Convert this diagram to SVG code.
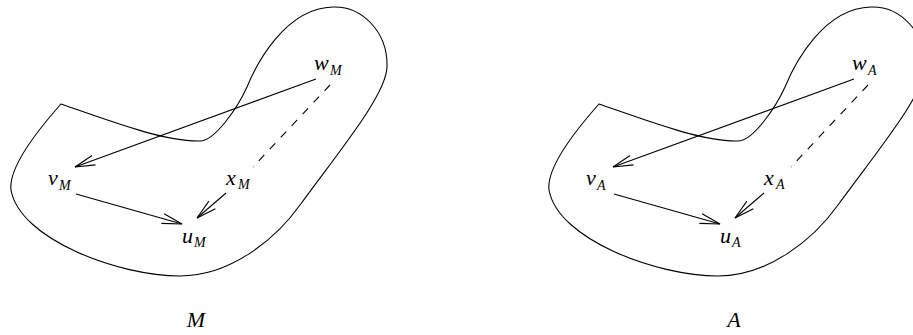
<svg xmlns="http://www.w3.org/2000/svg" width="913" height="335" viewBox="0 0 913 335">
<defs>
<style>
.outline{fill:none;stroke:#000;stroke-width:1.1}
.edge{fill:none;stroke:#000;stroke-width:1.1;marker-end:url(#ah)}
.dash{fill:none;stroke:#000;stroke-width:1.1;stroke-dasharray:8,8}
.lbl{font-family:'Liberation Serif','Times New Roman',serif;font-style:italic;font-size:22px;fill:#000}
.sub{font-size:14px}
</style>
<marker id="ah" markerUnits="userSpaceOnUse" viewBox="-22 -7 24 14" refX="0" refY="0" markerWidth="24" markerHeight="14" orient="auto">
<path d="M-20,-5 L0,0 L-20,5" fill="none" stroke="#000" stroke-width="1.1"/>
</marker>
<path id="blob" d="M61,104 C110,121 165,142 200,141 C215,141 238,107 247,87 C256,65 285,8 333,7 C362,6 388,32 387,67 C386,95 340,150 300,205 C275,240 230,276 180,276 C120,276 20,240 11,190 C8,165 45,122 61,104 Z"/>
</defs>
<g id="figM">
<use id="regionM" href="#blob" class="outline"/>
<g id="connectorsM">
<line class="edge" x1="316" y1="79" x2="75" y2="167"/>
<line class="edge" x1="76" y1="194" x2="182" y2="224"/>
<line class="edge" x1="226" y1="193" x2="197" y2="218"/>
<line class="dash" x1="330" y1="85" x2="253" y2="167"/>
</g>
<g id="wM"><text class="lbl" x="314" y="70">w<tspan class="sub" x="330" y="75">M</tspan></text></g>
<g id="vM"><text class="lbl" x="48" y="185">v<tspan class="sub" x="59" y="190">M</tspan></text></g>
<g id="xM"><text class="lbl" x="226" y="185">x<tspan class="sub" x="238" y="189">M</tspan></text></g>
<g id="uM"><text class="lbl" x="182" y="243">u<tspan class="sub" x="194" y="247">M</tspan></text></g>
<g id="labelM"><text class="lbl" x="196" y="327" text-anchor="middle">M</text></g>
</g>
<g id="figA" transform="translate(538,0)">
<use id="regionA" href="#blob" class="outline"/>
<g id="connectorsA">
<line class="edge" x1="316" y1="79" x2="75" y2="167"/>
<line class="edge" x1="76" y1="194" x2="182" y2="224"/>
<line class="edge" x1="226" y1="193" x2="197" y2="218"/>
<line class="dash" x1="330" y1="85" x2="253" y2="167"/>
</g>
<g id="wA"><text class="lbl" x="314" y="70">w<tspan class="sub" x="330" y="75">A</tspan></text></g>
<g id="vA"><text class="lbl" x="48" y="185">v<tspan class="sub" x="59" y="190">A</tspan></text></g>
<g id="xA"><text class="lbl" x="226" y="185">x<tspan class="sub" x="238" y="189">A</tspan></text></g>
<g id="uA"><text class="lbl" x="182" y="243">u<tspan class="sub" x="194" y="247">A</tspan></text></g>
<g id="labelA"><text class="lbl" x="196" y="327" text-anchor="middle">A</text></g>
</g>
</svg>
